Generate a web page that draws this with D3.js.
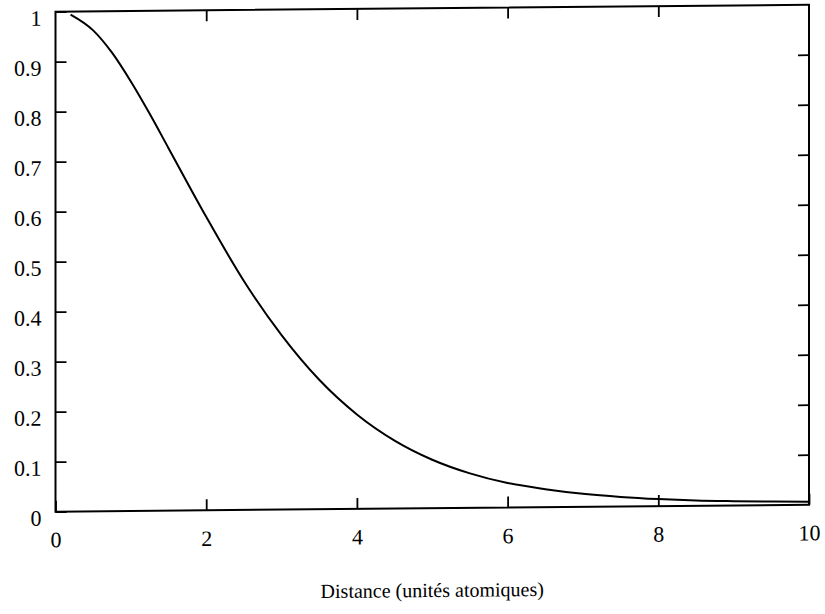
<!DOCTYPE html>
<html>
<head>
<meta charset="utf-8">
<script src="https://cdn.jsdelivr.net/npm/d3@7"></script>
<style>
    body { margin: 0; background: #fff; }
    text { font-family: "Liberation Serif", "Times New Roman", serif; fill: #000; }
</style>
</head>
<body>
<svg id="chart" width="825" height="614"></svg>
<script>
// values
const distances = [0.2, 0.5, 0.75, 1, 1.25, 1.5, 2, 2.5, 3, 3.5, 4, 4.5, 5, 5.5, 6, 6.5, 7, 7.5, 8, 8.5, 9, 9.5, 10];
const overlap = [0.994, 0.962, 0.917, 0.859, 0.794, 0.725, 0.587, 0.458, 0.349, 0.259, 0.189, 0.136, 0.097, 0.069, 0.049, 0.036, 0.026, 0.019, 0.014, 0.0105, 0.0085, 0.007, 0.006];

const xTickValues = [0, 2, 4, 6, 8, 10];
const yTickValues = [0, 0.1, 0.2, 0.3, 0.4, 0.5, 0.6, 0.7, 0.8, 0.9, 1];
const xTitle = 'Distance (unités atomiques)';

function renderChart() {
    const svg = d3.select('#chart');

    // the scanned page is slightly skewed: right side sits ~7px higher
    const skew = -0.00927;
    const left = 55.5;
    const g = svg.append('g')
        .attr('transform', `matrix(1, ${skew}, 0, 1, 0, ${-skew * left})`);

    const x = d3.scaleLinear().domain([0, 10]).range([left, 809]);
    const y = d3.scaleLinear().domain([0, 1]).range([511.7, 11.7]);

    // frame
    g.append('rect')
        .attr('x', x(0)).attr('y', y(1))
        .attr('width', x(10) - x(0)).attr('height', y(0) - y(1))
        .attr('fill', 'none').attr('stroke', '#000').attr('stroke-width', 2);

    // bottom
    const bottom = g.append('g')
        .attr('transform', `translate(0,${y(0)})`)
        .call(d3.axisBottom(x).tickValues(xTickValues).tickSize(-11).tickPadding(20).tickFormat(d3.format('~g')));

    // top
    const top = g.append('g')
        .attr('transform', `translate(0,${y(1)})`)
        .call(d3.axisTop(x).tickValues(xTickValues.slice(1, -1)).tickSize(-11).tickFormat(''));

    // left
    const leftAxis = g.append('g')
        .attr('transform', `translate(${x(0)},0)`)
        .call(d3.axisLeft(y).tickValues(yTickValues).tickSize(-11).tickPadding(14).tickFormat(d3.format('~g')));
    leftAxis.selectAll('text').attr('dy', '0.6em');

    // right
    const right = g.append('g')
        .attr('transform', `translate(${x(10)},0)`)
        .call(d3.axisRight(y).tickValues(yTickValues.slice(1, -1)).tickSize(-11).tickFormat(''));

    [bottom, top, leftAxis, right].forEach((axis) => {
        axis.select('.domain').remove();
        axis.selectAll('line').attr('stroke', '#000').attr('stroke-width', 1.8);
        axis.selectAll('text')
            .attr('fill', '#000')
            .style('font-family', '"Liberation Serif", "Times New Roman", serif')
            .style('font-size', '22px');
    });

    // curve
    const line = d3.line()
        .x((d, i) => x(distances[i]))
        .y((d) => y(d))
        .curve(d3.curveMonotoneX);

    g.append('path')
        .datum(overlap)
        .attr('d', line)
        .attr('fill', 'none')
        .attr('stroke', '#000')
        .attr('stroke-width', 2);

    g.append('text')
        .attr('x', (x(0) + x(10)) / 2)
        .attr('y', 600.5)
        .attr('text-anchor', 'middle')
        .style('font-size', '20px')
        .text(xTitle);
}

renderChart();
</script>
</body>
</html>
